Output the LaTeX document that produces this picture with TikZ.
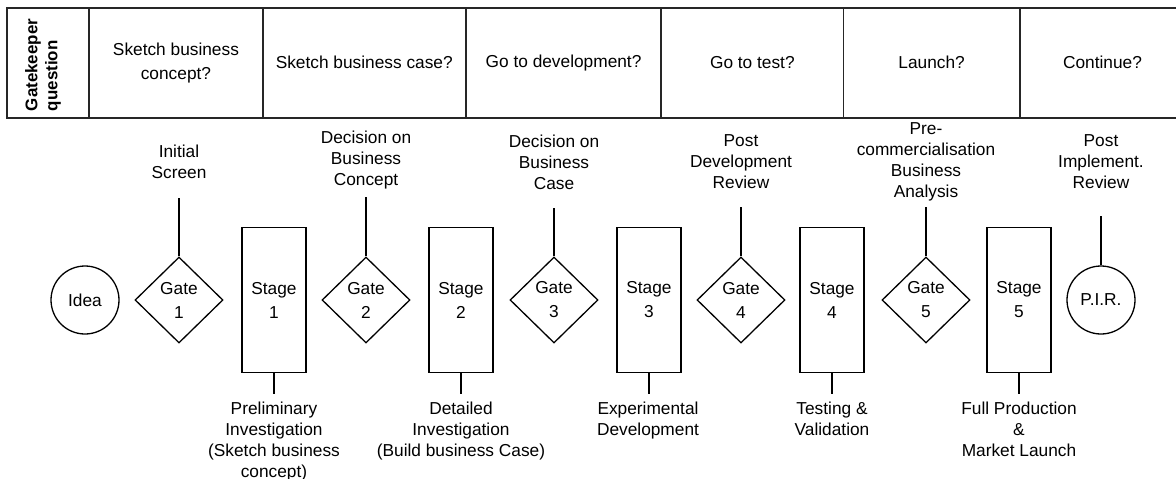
\documentclass[tikz,border=0pt]{standalone}
\usepackage{fontspec}
\setmainfont{Liberation Sans}
\usetikzlibrary{shapes.geometric}

\begin{document}
\begin{tikzpicture}[x=1pt, y=-1pt, line width=1.3pt,
	every node/.style={font=\fontsize{17.3}{21}\selectfont, align=center, inner sep=0pt},
	gate/.style={diamond, draw, minimum width=88pt, minimum height=86pt, font=\fontsize{17.3}{24}\selectfont},
	stagebox/.style={rectangle, draw, minimum width=64pt, minimum height=145pt, font=\fontsize{17.3}{24}\selectfont},
	endpoint/.style={circle, draw, minimum size=68pt},
	cell/.style={anchor=west, minimum height=108.5pt, font=\fontsize{17.3}{24}\selectfont},
	frame/.style={line width=1.8pt, draw=black!85}]
	\useasboundingbox (0,0) rectangle (1176,479);
	\node[cell, minimum width=81pt] (q0) at (7,62.75) {};
	\node[cell, minimum width=172pt] (q1) at (q0.east) {Sketch business\\concept?};
	\node[cell, minimum width=202pt] (q2) at (q1.east) {Sketch business case?};
	\node[cell, minimum width=194pt] (q3) at (q2.east) {Go to development?};
	\node[cell, minimum width=181pt] (q4) at (q3.east) {Go to test?};
	\node[cell, minimum width=175pt] (q5) at (q4.east) {Launch?};
	\node[cell, minimum width=164pt] (q6) at (q5.east) {Continue?};
	\node[rotate=90, align=left, font=\bfseries\fontsize{16.9}{20}\selectfont] (gk) at (43,65) {Gatekeeper\\question};
	\draw[frame] (q6.north east) -- (q0.north west) -- (q0.south west) -- (q6.south east);
	\path[frame] (q0.north east) edge (q0.south east) (q1.north east) edge (q1.south east)
		(q2.north east) edge (q2.south east) (q3.north east) edge (q3.south east)
		(q4.north east) edge (q4.south east) (q5.north east) edge (q5.south east);

	\node[endpoint] (idea) at (85,300) {Idea};
	\node[gate] (g1) at (179,300) {Gate\\1};
	\node[stagebox] (s1) at (274,300) {Stage\\1};
	\node[gate] (g2) at (366,300) {Gate\\2};
	\node[stagebox] (s2) at (461,300) {Stage\\2};
	\node[gate] (g3) at (554,300) {Gate\\3};
	\node[stagebox] (s3) at (649,300) {Stage\\3};
	\node[gate] (g4) at (741,300) {Gate\\4};
	\node[stagebox] (s4) at (832,300) {Stage\\4};
	\node[gate] (g5) at (926,300) {Gate\\5};
	\node[stagebox] (s5) at (1019,300) {Stage\\5};
	\node[endpoint] (pir) at (1101,300) {P.I.R.};

	\node (t1) at (179,162) {Initial\\Screen};
	\node (t2) at (366,160) {Decision on\\Business\\Concept};
	\node (t3) at (554,162) {Decision on\\Business\\Case};
	\node (t4) at (741,162) {Post\\Development\\Review};
	\node (t5) at (926,162) {Pre-\\commercialisation\\Business\\Analysis};
	\node (t6) at (1101,162) {Post\\Implement.\\Review};
	\coordinate (c1) at (179,198);
	\coordinate (c2) at (366,197);
	\coordinate (c3) at (554,208);
	\coordinate (c4) at (741,207);
	\coordinate (c5) at (926,207);
	\coordinate (c6) at (1101,216);

	\node[anchor=north] (b1) at (274,401) {Preliminary\\Investigation\\(Sketch business\\concept)};
	\node[anchor=north] (b2) at (461,401) {Detailed\\Investigation\\(Build business Case)};
	\node[anchor=north] (b3) at (648,401) {Experimental\\Development};
	\node[anchor=north] (b4) at (832,401) {Testing \&\\Validation};
	\node[anchor=north] (b5) at (1019,401) {Full Production\\\&\\Market Launch};
	\coordinate (d1) at (274,394);
	\coordinate (d2) at (461,394);
	\coordinate (d3) at (649,394);
	\coordinate (d4) at (832,394);
	\coordinate (d5) at (1019,394);

	\path (g1.north) edge (c1) (g2.north) edge (c2) (g3.north) edge (c3)
		(g4.north) edge (c4) (g5.north) edge (c5) (pir.north) edge (c6)
		(s1.south) edge (d1) (s2.south) edge (d2) (s3.south) edge (d3)
		(s4.south) edge (d4) (s5.south) edge (d5);
\end{tikzpicture}
\end{document}
